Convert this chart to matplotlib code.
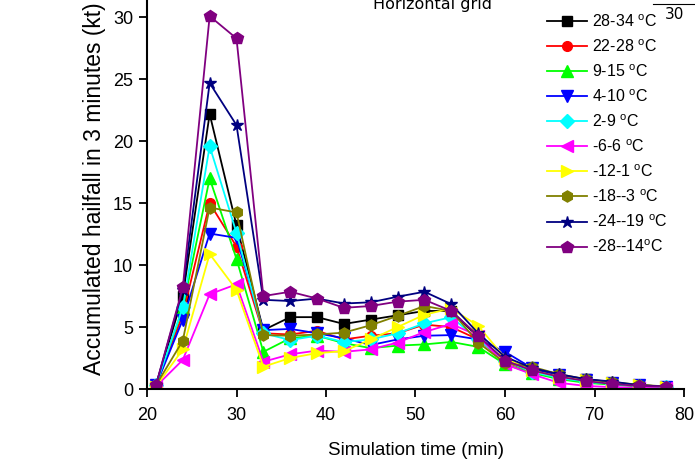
import matplotlib
matplotlib.use("Agg")
import matplotlib.pyplot as plt

plt.rcParams['font.family'] = ['Liberation Sans', 'DejaVu Sans']
plt.rcParams['mathtext.default'] = 'regular'

time_min = [21, 24, 27, 30, 33, 36, 39, 42, 45, 48, 51, 54, 57, 60, 63, 66, 69, 72, 75, 78]

labels = ["28-34 $^{o}$C", "22-28 $^{o}$C", "9-15 $^{o}$C", "4-10 $^{o}$C", "2-9 $^{o}$C",
          "-6-6 $^{o}$C", "-12-1 $^{o}$C", "-18--3 $^{o}$C", "-24--19 $^{o}$C", "-28--14$^{o}$C"]

hail_28_34 = [0.3, 7.5, 22.2, 13.2, 4.75, 5.8, 5.8, 5.25, 5.6, 5.95, 6.3, 6.3, 4.2, 2.3, 1.6, 1.1, 0.8, 0.5, 0.3, 0.2]
hail_22_28 = [0.3, 6.0, 15.0, 11.5, 4.5, 4.4, 4.7, 4.0, 4.3, 4.5, 5.2, 5.0, 4.0, 2.2, 1.4, 0.9, 0.6, 0.4, 0.25, 0.15]
hail_9_15 = [0.3, 6.5, 17.0, 10.5, 3.0, 4.1, 4.3, 3.7, 3.3, 3.5, 3.6, 3.8, 3.4, 2.0, 1.3, 0.8, 0.5, 0.35, 0.2, 0.1]
hail_4_10 = [0.3, 5.6, 12.55, 12.2, 4.75, 4.85, 4.5, 4.1, 3.55, 4.0, 4.3, 4.35, 4.0, 3.0, 1.7, 1.1, 0.7, 0.5, 0.3, 0.2]
hail_2_9 = [0.3, 6.6, 19.6, 12.6, 4.5, 3.95, 4.3, 3.8, 4.0, 4.5, 5.3, 5.8, 4.0, 2.3, 1.4, 0.9, 0.6, 0.4, 0.25, 0.15]
hail_m6_6 = [0.2, 2.35, 7.65, 8.45, 2.2, 2.8, 3.1, 3.0, 3.2, 3.75, 4.6, 5.25, 4.3, 2.0, 1.2, 0.5, 0.25, 0.15, 0.1, 0.05]
hail_m12_1 = [0.2, 3.2, 10.9, 8.0, 1.8, 2.5, 2.9, 3.05, 4.0, 5.0, 6.0, 6.5, 5.1, 2.5, 1.5, 1.0, 0.7, 0.45, 0.3, 0.2]
hail_m18_m3 = [0.3, 3.9, 14.65, 14.25, 4.35, 4.3, 4.4, 4.55, 5.15, 5.9, 6.7, 6.3, 3.75, 2.1, 1.8, 1.2, 0.8, 0.55, 0.35, 0.2]
hail_m24_m19 = [0.3, 8.0, 24.7, 21.3, 7.2, 7.1, 7.3, 6.9, 7.0, 7.45, 7.85, 6.85, 4.5, 2.6, 1.7, 1.2, 0.8, 0.6, 0.3, 0.2]
hail_m28_m14 = [0.3, 8.2, 30.1, 28.3, 7.5, 7.85, 7.3, 6.55, 6.7, 7.05, 7.2, 6.3, 4.3, 2.3, 1.5, 1.0, 0.65, 0.4, 0.25, 0.2]

series = [hail_28_34, hail_22_28, hail_9_15, hail_4_10, hail_2_9,
          hail_m6_6, hail_m12_1, hail_m18_m3, hail_m24_m19, hail_m28_m14]
colors = ['#000000', '#FF0000', '#00FF00', '#0000FF', '#00FFFF',
          '#FF00FF', '#FFFF00', '#808000', '#000080', '#800080']
markers = ['s', 'o', '^', 'v', 'D', '<', '>', 'h', '*', 'p']
msizes = [7, 7, 8, 8, 7, 8, 8, 8, 9, 9]

fig = plt.figure(figsize=(6.95, 4.63), dpi=100)
ax = fig.add_axes([147 / 695, 1 - 389 / 463, (684 - 147) / 695, 389 / 463])

handles = []
for vals, c, m, ms, lab in zip(series, colors, markers, msizes, labels):
    h, = ax.plot(time_min, vals, color=c, marker=m, markersize=ms, lw=1.3,
                 markeredgecolor=c, label=lab)
    handles.append(h)

ax.set_xlim(20, 80)
ax.set_ylim(0, 31.4)
ax.set_xticks([20, 30, 40, 50, 60, 70, 80])
ax.set_yticks([0, 5, 10, 15, 20, 25, 30])
ax.spines['top'].set_visible(False)
ax.spines['right'].set_visible(False)
for s in ('left', 'bottom'):
    ax.spines[s].set_linewidth(1.5)
ax.tick_params(direction='out', length=6, width=1.3, labelsize=13)
ax.tick_params(axis='x', pad=7)
ax.tick_params(axis='y', pad=4)
ax.set_xlabel('Simulation time (min)', fontsize=13.5, labelpad=13)
ax.set_ylabel('Accumulated hailfall in 3 minutes (kt)', fontsize=16.5)
ax.yaxis.set_label_coords(-0.077, 0.515)

fig.legend(handles=handles, loc='upper left', bbox_to_anchor=(547 / 695, 1 - 13 / 463),
           frameon=False, fontsize=11.5, handlelength=2.5, handletextpad=0.3,
           labelspacing=0.53, borderaxespad=0, borderpad=0)

fig.text(373 / 695, 1 - 9 / 463, 'Horizontal grid', fontsize=11.5,
         family='DejaVu Sans', va='baseline', ha='left')
fig.text(675 / 695, 1 - 19 / 463, '30', fontsize=11, family='DejaVu Sans',
         va='baseline', ha='center')
fig.add_artist(plt.Line2D([653 / 695, 1.0], [1 - 4 / 463, 1 - 4 / 463],
                          transform=fig.transFigure, color='black', lw=0.8))

fig.savefig('out.png', dpi=100)
